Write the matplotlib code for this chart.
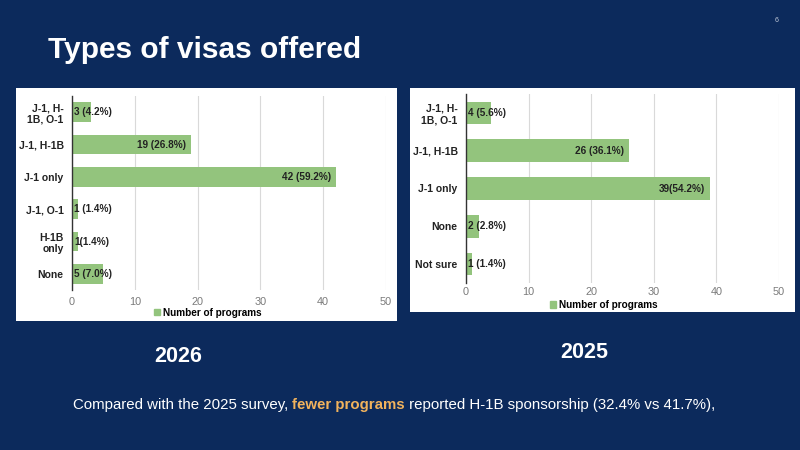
import matplotlib.pyplot as plt
from matplotlib.patches import Rectangle, Patch

plt.rcParams["font.family"] = ["Liberation Sans", "DejaVu Sans"]

# 2026 survey
cats_2026 = ["J-1, H-\n1B, O-1", "J-1, H-1B", "J-1 only", "J-1, O-1", "H-1B\nonly", "None"]
vals_2026 = [3, 19, 42, 1, 1, 5]
labels_2026 = ["3 (4.2%)", "19 (26.8%)", "42 (59.2%)", "1 (1.4%)", "1(1.4%)", "5 (7.0%)"]

# 2025 survey
cats_2025 = ["J-1, H-\n1B, O-1", "J-1, H-1B", "J-1 only", "None", "Not sure"]
vals_2025 = [4, 26, 39, 2, 1]
labels_2025 = ["4 (5.6%)", "26 (36.1%)", "39(54.2%)", "2 (2.8%)", "1 (1.4%)"]

xticks = [0, 10, 20, 30, 40, 50]

NAVY = "#0c2a5c"
GREEN = "#93c47d"
W, H = 800, 450


def px(x, y):
    return x / W, 1 - y / H


fig = plt.figure(figsize=(8, 4.5), dpi=100)
fig.patch.set_facecolor(NAVY)


def white_box(x0, y0, x1, y1):
    fx, fy = px(x0, y1)
    fig.patches.append(Rectangle((fx, fy), (x1 - x0) / W, (y1 - y0) / H,
                                 transform=fig.transFigure, facecolor="white",
                                 edgecolor="none", zorder=-1))


def bar_panel(rect, cats, vals, labels, legend_xy, tick_pad):
    x0, y0, x1, y1 = rect
    fx, fy = px(x0, y1)
    ax = fig.add_axes([fx, fy, (x1 - x0) / W, (y1 - y0) / H])
    ax.set_facecolor("white")
    pos = list(range(len(cats)))
    ax.barh(pos, vals, height=0.6, color=GREEN, zorder=2)
    for p, v, lab in zip(pos, vals, labels):
        if v > 10:
            ax.text(v - 0.8, p, lab, ha="right", va="center", fontsize=7.2,
                    fontweight="bold", color="#222222", zorder=3)
        else:
            ax.text(0.3, p, lab, ha="left", va="center", fontsize=7.2,
                    fontweight="bold", color="#222222", zorder=3)
    ax.set_xlim(0, 50)
    ax.set_ylim(len(cats) - 0.5, -0.5)
    ax.set_xticks(xticks)
    ax.set_yticks(pos)
    ax.set_yticklabels(cats, fontsize=7.5, fontweight="bold", color="#222222",
                       multialignment="right")
    ax.tick_params(axis="x", length=0, labelsize=7.8, labelcolor="#7a7a7a", pad=tick_pad)
    ax.tick_params(axis="y", length=0, pad=6)
    ax.grid(axis="x", color="#d9d9d9", linewidth=0.8, zorder=0)
    for s in ["top", "right", "bottom"]:
        ax.spines[s].set_visible(False)
    ax.spines["left"].set_color("#333333")
    ax.spines["left"].set_linewidth(1.0)
    ax.spines["left"].set_zorder(4)
    lx, ly = px(*legend_xy)
    ax.legend(handles=[Patch(color=GREEN, label="Number of programs")],
              loc="center", bbox_to_anchor=(lx, ly), bbox_transform=fig.transFigure,
              frameon=False, handlelength=0.6, handleheight=0.6, handletextpad=0.3,
              borderpad=0, prop={"weight": "bold", "size": 7.2})
    return ax


white_box(16, 88, 397, 321)
white_box(410, 88, 795, 312)

bar_panel((72, 96, 386, 290), cats_2026, vals_2026, labels_2026, (208, 312.5), 5)
bar_panel((466, 94, 779, 283), cats_2025, vals_2025, labels_2025, (604, 305), 3)

tx, ty = px(48, 50)
fig.text(tx, ty, "Types of visas offered", fontsize=21.5, fontweight="bold",
         color="white", ha="left", va="center")

fig.text(*px(777, 21), "6", fontsize=5, color="#c0c8d8", ha="center", va="center")

fig.text(*px(178, 357), "2026", fontsize=15.5, fontweight="bold", color="white",
         ha="center", va="center")
fig.text(*px(584, 352), "2025", fontsize=15.5, fontweight="bold", color="white",
         ha="center", va="center")

bx, by = px(73, 405)
t1 = fig.text(bx, by, "Compared with the 2025 survey, ", fontsize=10.85,
              color="white", ha="left", va="center")
t2 = fig.text(0, 0, "fewer programs", fontsize=10.85, fontweight="bold",
              color="#f2b35c", ha="left", va="bottom")
t3 = fig.text(0, 0, " reported H-1B sponsorship (32.4% vs 41.7%),", fontsize=10.85,
              color="white", ha="left", va="bottom")
fig.canvas.draw()
r = fig.canvas.get_renderer()
bb1 = t1.get_window_extent(r)
t2.set_position((bb1.x1 / W, bb1.y0 / H))
bb2 = t2.get_window_extent(r)
t3.set_position((bb2.x1 / W, bb1.y0 / H))

fig.savefig("out.png", dpi=100, facecolor=NAVY)
